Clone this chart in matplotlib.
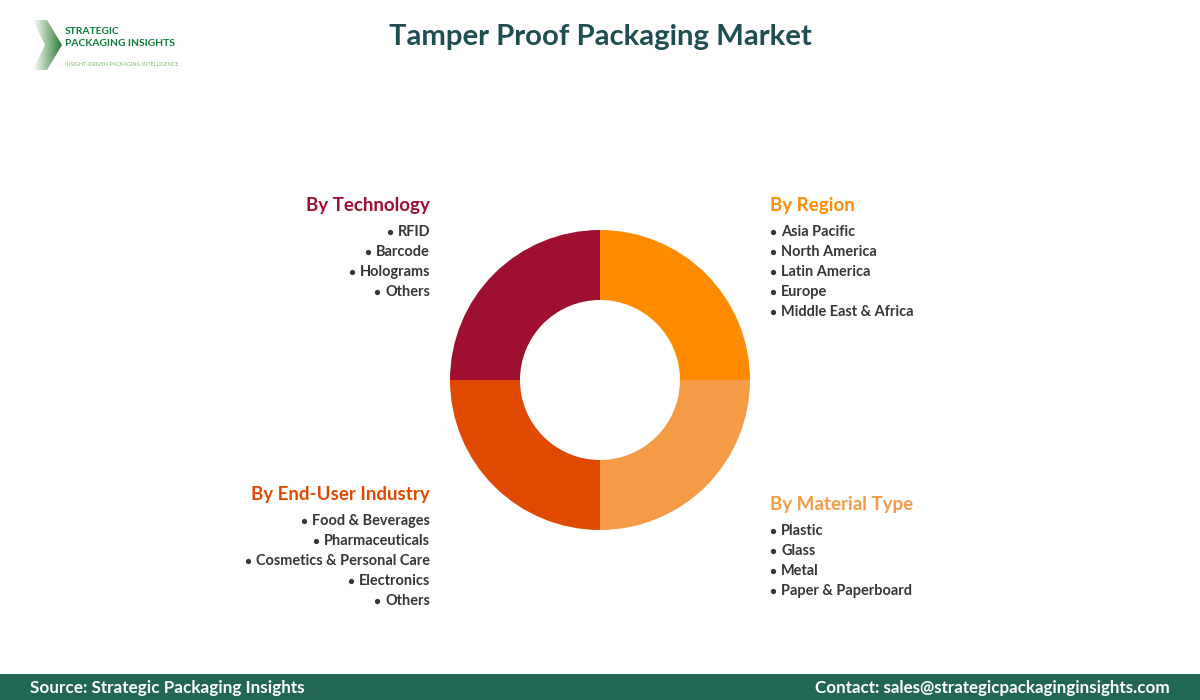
import numpy as np
import matplotlib.pyplot as plt
from matplotlib.patches import Polygon, Rectangle

plt.rcParams['font.family'] = ['Lato', 'DejaVu Sans']

segment_names = ['By Region', 'By Material Type', 'By End-User Industry', 'By Technology']
segment_values = [25, 25, 25, 25]
segment_colors = ['#FF8C00', '#F59A45', '#E04A00', '#9E0F30']

region_items = ['Asia Pacific', 'North America', 'Latin America', 'Europe', 'Middle East & Africa']
material_items = ['Plastic', 'Glass', 'Metal', 'Paper & Paperboard']
enduser_items = ['Food & Beverages', 'Pharmaceuticals', 'Cosmetics & Personal Care', 'Electronics', 'Others']
technology_items = ['RFID', 'Barcode', 'Holograms', 'Others']

fig = plt.figure(figsize=(12, 7), dpi=100)

# whole figure in pixels, y going down
bg = fig.add_axes([0, 0, 1, 1])
bg.set_xlim(0, 1200)
bg.set_ylim(700, 0)
bg.axis('off')

# footer
bg.add_patch(Rectangle((0, 674), 1200, 26, color='#226655', lw=0))
bg.text(30, 687.5, 'Source: Strategic Packaging Insights', color='white', fontsize=12.3,
        fontweight='bold', ha='left', va='center')
bg.text(1170, 687.5, 'Contact: sales@strategicpackaginginsights.com', color='white', fontsize=12.25,
        fontweight='bold', ha='right', va='center')

bg.text(600, 37, 'Tamper Proof Packaging Market', color='#1F4E52', fontsize=21.1,
        fontweight='bold', ha='center', va='center')

# logo
grad = np.linspace(0, 1, 64).reshape(1, -1)
cmap = plt.matplotlib.colors.LinearSegmentedColormap.from_list('logo', ['#FFFFFF', '#2E7D32'])
im = bg.imshow(grad, extent=(33, 62, 70, 20), cmap=cmap, aspect='auto', zorder=2)
chevron = Polygon([(33, 20), (47, 20), (62, 45), (47, 70), (33, 70), (45, 45)],
                  closed=True, transform=bg.transData, fc='none', ec='none')
bg.add_patch(chevron)
im.set_clip_path(chevron)
bg.set_xlim(0, 1200)
bg.set_ylim(700, 0)

bg.text(65, 31, 'STRATEGIC', color='#0B7A3B', fontsize=7.35, fontweight='bold', ha='left', va='center')
bg.text(65, 44, 'PACKAGING INSIGHTS', color='#0B7A3B', fontsize=7.35, fontweight='bold', ha='left', va='center')
bg.text(65, 64.5, 'INSIGHT-DRIVEN PACKAGING INTELLIGENCE', color='#7DBB6A', fontsize=3.85,
        ha='left', va='center')

# donut
ax = fig.add_axes([450 / 1200, (700 - 530) / 700, 300 / 1200, 300 / 700])
ax.pie(segment_values, colors=segment_colors, startangle=90, counterclock=False, radius=1,
       wedgeprops=dict(width=70 / 150, linewidth=0))
ax.set_xlim(-1, 1)
ax.set_ylim(-1, 1)

renderer = fig.canvas.get_renderer()


def draw_group(x, y, name, items, color, align):
    bg.text(x, y, name, color=color, fontsize=13.5, fontweight='bold', ha=align, va='center')
    for n, item in enumerate(items):
        row_y = y + 26.5 + 20 * n
        if align == 'left':
            bg.text(x + 11, row_y, item, color='#363636', fontsize=10.45, fontweight='bold',
                    ha='left', va='center')
            bullet_x = x + 3
        else:
            t = bg.text(x, row_y, item, color='#363636', fontsize=10.45, fontweight='bold',
                        ha='right', va='center')
            bullet_x = x - t.get_window_extent(renderer).width - 8
        bg.plot(bullet_x, row_y, 'o', color='#363636', ms=3.8, mew=0)


draw_group(770, 205.5, segment_names[0], region_items, segment_colors[0], 'left')
draw_group(770, 504.5, segment_names[1], material_items, segment_colors[1], 'left')
draw_group(430, 494.5, segment_names[2], enduser_items, segment_colors[2], 'right')
draw_group(430, 205.5, segment_names[3], technology_items, segment_colors[3], 'right')

bg.set_xlim(0, 1200)
bg.set_ylim(700, 0)

fig.savefig('out.png', dpi=100)
